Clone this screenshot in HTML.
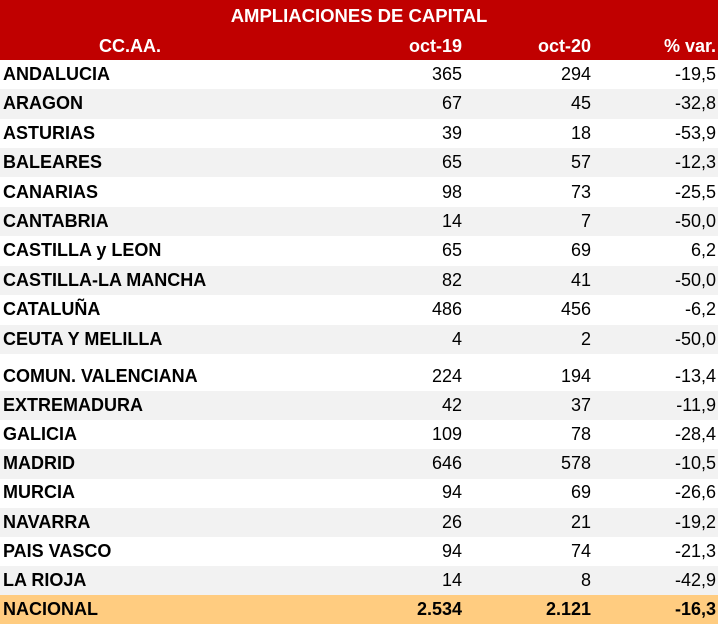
<!DOCTYPE html>
<html><head><meta charset="utf-8"><style>
body{margin:0;width:718px;height:626px;background:#fff;position:relative;overflow:hidden;font-family:"Liberation Sans",sans-serif;font-size:18px;color:#000}
.r{position:absolute;left:0;width:718px;height:29.3px;line-height:29.3px}
.g{background:#F2F2F2}
.r span{position:absolute;top:0}
.n{left:3px;font-weight:bold}
.a{right:256px}.b{right:127px}.c{right:2px}
.hd{background:#C00000;color:#fff;font-weight:bold}
</style></head><body>
<div class="hd" style="position:absolute;left:0;top:0;width:718px;height:60px">
<div style="position:absolute;left:0;width:718px;top:5px;text-align:center;font-size:18.5px">AMPLIACIONES DE CAPITAL</div>
<span style="position:absolute;left:99px;top:36px">CC.AA.</span>
<span style="position:absolute;right:256px;top:36px">oct-19</span>
<span style="position:absolute;right:127px;top:36px">oct-20</span>
<span style="position:absolute;right:2px;top:36px">% var.</span>
</div>
<div class="r" style="top:60px"><span class="n">ANDALUCIA</span><span class="a">365</span><span class="b">294</span><span class="c">-19,5</span></div>
<div class="r g" style="top:89.4px"><span class="n">ARAGON</span><span class="a">67</span><span class="b">45</span><span class="c">-32,8</span></div>
<div class="r" style="top:118.8px"><span class="n">ASTURIAS</span><span class="a">39</span><span class="b">18</span><span class="c">-53,9</span></div>
<div class="r g" style="top:148.2px"><span class="n">BALEARES</span><span class="a">65</span><span class="b">57</span><span class="c">-12,3</span></div>
<div class="r" style="top:177.6px"><span class="n">CANARIAS</span><span class="a">98</span><span class="b">73</span><span class="c">-25,5</span></div>
<div class="r g" style="top:207px"><span class="n">CANTABRIA</span><span class="a">14</span><span class="b">7</span><span class="c">-50,0</span></div>
<div class="r" style="top:236.4px"><span class="n">CASTILLA y LEON</span><span class="a">65</span><span class="b">69</span><span class="c">6,2</span></div>
<div class="r g" style="top:265.8px"><span class="n">CASTILLA-LA MANCHA</span><span class="a">82</span><span class="b">41</span><span class="c">-50,0</span></div>
<div class="r" style="top:295.2px"><span class="n">CATALUÑA</span><span class="a">486</span><span class="b">456</span><span class="c">-6,2</span></div>
<div class="r g" style="top:324.6px"><span class="n">CEUTA Y MELILLA</span><span class="a">4</span><span class="b">2</span><span class="c">-50,0</span></div>
<div class="r" style="top:362px"><span class="n">COMUN. VALENCIANA</span><span class="a">224</span><span class="b">194</span><span class="c">-13,4</span></div>
<div class="r g" style="top:391.1px"><span class="n">EXTREMADURA</span><span class="a">42</span><span class="b">37</span><span class="c">-11,9</span></div>
<div class="r" style="top:420.2px"><span class="n">GALICIA</span><span class="a">109</span><span class="b">78</span><span class="c">-28,4</span></div>
<div class="r g" style="top:449.3px"><span class="n">MADRID</span><span class="a">646</span><span class="b">578</span><span class="c">-10,5</span></div>
<div class="r" style="top:478.4px"><span class="n">MURCIA</span><span class="a">94</span><span class="b">69</span><span class="c">-26,6</span></div>
<div class="r g" style="top:507.5px"><span class="n">NAVARRA</span><span class="a">26</span><span class="b">21</span><span class="c">-19,2</span></div>
<div class="r" style="top:536.6px"><span class="n">PAIS VASCO</span><span class="a">94</span><span class="b">74</span><span class="c">-21,3</span></div>
<div class="r g" style="top:565.7px"><span class="n">LA RIOJA</span><span class="a">14</span><span class="b">8</span><span class="c">-42,9</span></div>
<div class="r" style="top:595px;background:#FFCC80;font-weight:bold"><span class="n">NACIONAL</span><span class="a">2.534</span><span class="b">2.121</span><span class="c">-16,3</span></div>
</body></html>
